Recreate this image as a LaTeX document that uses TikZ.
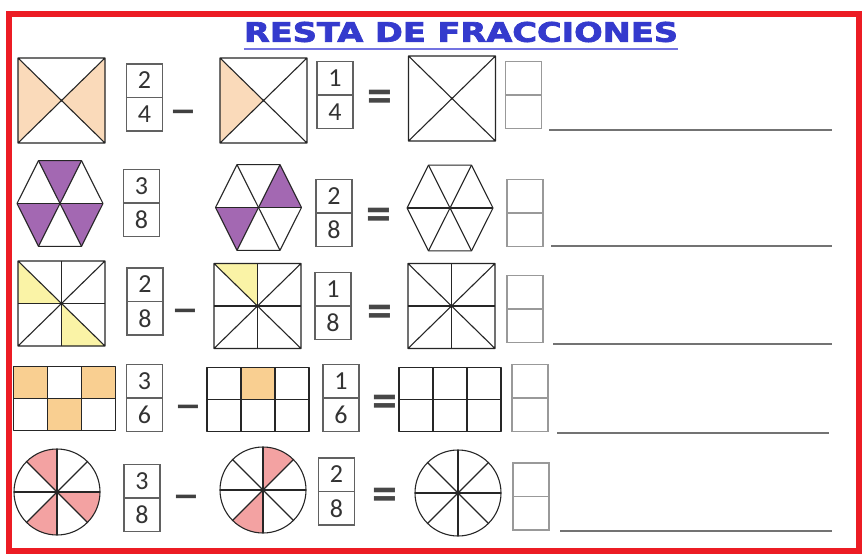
\documentclass[tikz,border=0pt]{standalone}
\usepackage{fontspec}
\usepackage{graphicx}
\newfontfamily\carlito{Carlito}
\newfontfamily\titfont[FakeBold=2.5]{DejaVu Sans}
\usetikzlibrary{calc,positioning}

\definecolor{rojo}{RGB}{236,28,36}
\definecolor{azultit}{RGB}{52,58,205}
\definecolor{azulsub}{RGB}{115,115,225}
\definecolor{durazno}{RGB}{250,218,186}
\definecolor{naranja}{RGB}{249,207,145}
\definecolor{amarillo}{RGB}{250,243,166}
\definecolor{morado}{RGB}{163,104,178}
\definecolor{rosa}{RGB}{243,162,162}

% caja de fraccion: nombre, centro, numerador, denominador
\newcommand{\fraccion}[4]{%
  \node[caja] (#1) at (#2) {};
  \draw[linea caja] (#1.west) -- (#1.east);
  \node[num] (#1n) at ($(#1.center)!0.5!(#1.north)$) {#3};
  \node[num] (#1d) at ($(#1.center)!0.5!(#1.south)$) {#4};}
% caja vacia de respuesta
\newcommand{\respuesta}[2]{%
  \node[caja,draw=black!40] (#1) at (#2) {};
  \draw[linea caja,draw=black!40] (#1.west) -- (#1.east);}
% figuras (dibujadas en el origen)
\newcommand{\cuadroX}{\draw[figura] (-43.5,-42.5) rectangle (43.5,42.5) (-43.5,-42.5) -- (43.5,42.5) (-43.5,42.5) -- (43.5,-42.5);}
\newcommand{\cuadroOcho}{\cuadroX \draw[figura] (0,-42.5) -- (0,42.5) (-43.5,0) -- (43.5,0);}
\newcommand{\hexa}{\draw[figura] (0:43) -- (60:43) -- (120:43) -- (180:43) -- (240:43) -- (300:43) -- cycle;
  \foreach \a in {0,60,120} \draw[figura] (\a:43) -- (\a+180:43);}
\newcommand{\rueda}{\draw[figura] (0,0) circle[radius=43];
  \foreach \a in {0,45,90,135} \draw[figura] (\a:43) -- (\a+180:43);}
\newcommand{\rejilla}{\draw[figura] (-51,-32) rectangle (51,32);
  \foreach \x in {-17,17} \draw[figura] (\x,-32) -- (\x,32); \draw[figura] (-51,0) -- (51,0);}

\begin{document}
\begin{tikzpicture}[x=1pt,y=-1pt,
    figura/.style={draw=black!85,line width=1.1pt,line join=round},
    caja/.style={draw=black!62,line width=1.1pt,minimum width=36pt,minimum height=67pt,inner sep=0pt},
    linea caja/.style={draw=black!62,line width=1.1pt},
    num/.style={font=\carlito\fontsize{26}{26}\selectfont,text=black!80,inner sep=0pt},
    igual/.style={font=\carlito\bfseries\fontsize{50}{50}\selectfont,text=black!72,inner sep=0pt,yshift=-4pt},
    menos/.style={font=\carlito\fontsize{56}{56}\selectfont,text=black!75,inner sep=0pt,yshift=-7pt},
    raya/.style={draw=black!55,line width=2pt}]
    \useasboundingbox (0,0) rectangle (866,556);
    \fill[white] (0,0) rectangle (866,556);

    % marco y titulo
    \draw[rojo,line width=6pt] (9,14) rectangle (859,551);
    \node[inner sep=0pt,text=azultit] (titulo) at (461,32) {\resizebox{434pt}{20pt}{\titfont\bfseries RESTA DE FRACCIONES}};
    \draw[azulsub,line width=2pt] ([yshift=-7pt]titulo.south west) -- ([yshift=-7pt]titulo.south east);

    % fila 1: cuadrados en cuartos
    \begin{scope}[shift={(61.5,100.5)}]
      \fill[durazno] (-43.5,-42.5) -- (0,0) -- (-43.5,42.5) -- cycle (43.5,-42.5) -- (0,0) -- (43.5,42.5) -- cycle;
      \cuadroX
    \end{scope}
    \fraccion{f1a}{144.5,97.5}{2}{4}
    \node[menos] (m1) at (183,112) {–};
    \begin{scope}[shift={(263.5,100.5)}]
      \fill[durazno] (-43.5,-42.5) -- (0,0) -- (-43.5,42.5) -- cycle;
      \cuadroX
    \end{scope}
    \fraccion{f1b}{335,95}{1}{4}
    \node[igual] (e1) at (380,97) {=};
    \begin{scope}[shift={(452,98.5)}] \cuadroX \end{scope}
    \respuesta{r1}{523.5,95}
    \draw[raya] (549,130) -- (832,130);

    % fila 2: hexagonos
    \begin{scope}[shift={(60,203.5)},yscale=1.15]
      \fill[morado] (0,0) -- (-60:43) -- (-120:43) -- cycle (0,0) -- (180:43) -- (120:43) -- cycle (0,0) -- (0:43) -- (60:43) -- cycle;
      \hexa
    \end{scope}
    \fraccion{f2a}{141.5,203}{3}{8}
    \begin{scope}[shift={(258.5,207.5)},yscale=1.15]
      \fill[morado] (0,0) -- (-60:43) -- (0:43) -- cycle (0,0) -- (180:43) -- (120:43) -- cycle;
      \hexa
    \end{scope}
    \fraccion{f2b}{334,213}{2}{8}
    \node[igual] (e2) at (379,215) {=};
    \begin{scope}[shift={(450,208)},yscale=1.15] \hexa \end{scope}
    \respuesta{r2}{525,213}
    \draw[raya] (551,246) -- (832,246);

    % fila 3: cuadrados en octavos
    \begin{scope}[shift={(61.5,303.5)}]
      \fill[amarillo] (-43.5,-42.5) -- (0,0) -- (-43.5,0) -- cycle (0,0) -- (0,42.5) -- (43.5,42.5) -- cycle;
      \cuadroOcho
    \end{scope}
    \fraccion{f3a}{145,301.5}{2}{8}
    \node[menos] (m3) at (185,311) {–};
    \begin{scope}[shift={(257.5,306)}]
      \fill[amarillo] (-43.5,-42.5) -- (0,-42.5) -- (0,0) -- cycle;
      \cuadroOcho
    \end{scope}
    \fraccion{f3b}{333,306}{1}{8}
    \node[igual] (e3) at (380,312) {=};
    \begin{scope}[shift={(451.5,306)}] \cuadroOcho \end{scope}
    \respuesta{r3}{525,309}
    \draw[raya] (553,344) -- (832,344);

    % fila 4: rectangulos en sextos
    \begin{scope}[shift={(64.5,398.5)}]
      \fill[naranja] (-51,-32) rectangle (-17,0) (17,-32) rectangle (51,0) (-17,0) rectangle (17,32);
      \rejilla
    \end{scope}
    \fraccion{f4a}{144.5,398}{3}{6}
    \node[menos] (m4) at (188,407) {–};
    \begin{scope}[shift={(258,399.5)}]
      \fill[naranja] (-17,-32) rectangle (17,0);
      \rejilla
    \end{scope}
    \fraccion{f4b}{341,398}{1}{6}
    \node[igual] (e4) at (385,402) {=};
    \begin{scope}[shift={(450,399.5)}] \rejilla \end{scope}
    \respuesta{r4}{530,398}
    \draw[raya] (557,433) -- (829,433);

    % fila 5: circulos en octavos
    \begin{scope}[shift={(57,492)}]
      \fill[rosa] (0,0) -- (-90:43) arc[start angle=-90,end angle=-135,radius=43] -- cycle
                  (0,0) -- (0:43) arc[start angle=0,end angle=45,radius=43] -- cycle
                  (0,0) -- (90:43) arc[start angle=90,end angle=135,radius=43] -- cycle;
      \rueda
    \end{scope}
    \fraccion{f5a}{142,498}{3}{8}
    \node[menos] (m5) at (186,497) {–};
    \begin{scope}[shift={(263,490)}]
      \fill[rosa] (0,0) -- (-45:43) arc[start angle=-45,end angle=-90,radius=43] -- cycle
                  (0,0) -- (90:43) arc[start angle=90,end angle=135,radius=43] -- cycle;
      \rueda
    \end{scope}
    \fraccion{f5b}{336.5,491.5}{2}{8}
    \node[igual] (e5) at (385,495) {=};
    \begin{scope}[shift={(458,493)}] \rueda \end{scope}
    \respuesta{r5}{531,496.5}
    \draw[raya] (560,531) -- (832,531);
\end{tikzpicture}
\end{document}
